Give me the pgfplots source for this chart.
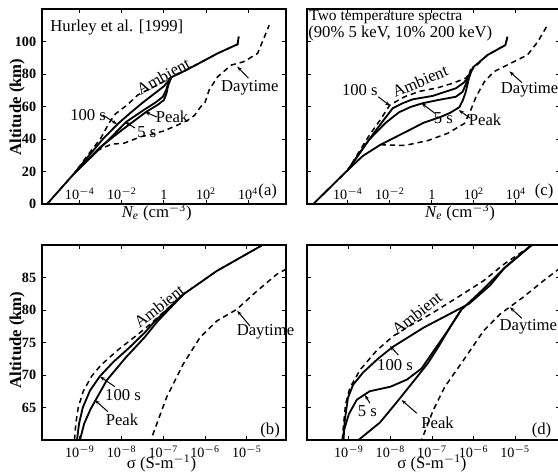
\documentclass[border=0pt]{standalone}
\usepackage{fontspec}
\setmainfont{Liberation Serif}
\usepackage{pgfplots}
\pgfplotsset{compat=1.18}
\usetikzlibrary{arrows.meta}

\tikzset{
  curve/.style={line width=1.1pt,black},
  amb/.style={line width=0.9pt,black,dash pattern=on 3.2pt off 2.4pt},
  ann/.style={font=\fontsize{10}{12}\selectfont,inner sep=0pt},
  arr/.style={-{Stealth[length=3pt,width=2.2pt]},line width=0.6pt},
}
\newcommand{\tp}[1]{10\textsuperscript{#1}}
\pgfplotsset{
  every axis/.append style={
    scale only axis, clip mode=individual, anchor=south west,
    height=117pt,
    axis line style={line width=0.9pt},
    tick align=inside, major tick length=2.4pt,
    tick style={line width=0.6pt,black},
    xticklabel style={font=\fontsize{8.5}{10}\selectfont},
    yticklabel style={font=\fontsize{8.5}{10}\selectfont\bfseries,/pgf/number format/assume math mode=true},
    ylabel style={font=\fontsize{10}{12}\selectfont\bfseries,anchor=center},
    xlabel style={font=\fontsize{10}{12}\selectfont,anchor=center},
  },
}

\begin{document}
\begin{tikzpicture}
\useasboundingbox (0,0) rectangle (334.8pt,284.4pt);

% (a) Hurley et al.
\begin{axis}[xmode=log, xminorticks=false, yminorticks=false,
  at={(25.2pt,162pt)}, width=146.4pt, xmin=1.6e-6, xmax=6.3e5,
  ymin=0, ymax=120, ytick={0,20,40,60,80,100},
  xtick={1e-4,1e-2,1,1e2,1e4},
  xticklabels={\tp{$-$4},\tp{$-$2},1,\tp{2},\tp{4}},
  xticklabel style={anchor=base,yshift=2.6pt},
  ylabel={Altitude (km)}, ylabel style={at={(axis description cs:-0.102,0.497)}},
  xlabel={\textit{N\textsubscript{e}} (cm\textsuperscript{$-$3})},
  xlabel style={at={(axis description cs:0.47,0)},yshift=-4.8pt}]
\addplot[amb] coordinates {(2.8e-6,0) (5.6e-5,19) (2.2e-4,29.5) (1e-3,40.5) (2.5e-3,50) (5e-3,55.5) (1.8e-2,61) (5.6e-2,67) (0.18,70.5) (0.5,73.2) (2.24,78) (10,82) (63,87.5) (355,92.7) (3160,98.3) (3550,103)};
\addplot[curve] coordinates {(2.8e-6,0) (5.6e-5,19) (2.8e-4,30) (1.26e-3,40) (6.3e-3,49.2) (2.5e-2,56) (0.1,62.5) (0.4,68.5) (1,72.5) (2.24,78) (10,82) (63,87.5) (355,92.7) (3160,98.3) (3550,103)};
\addplot[curve] coordinates {(5.6e-5,19) (3.55e-4,29) (1.8e-3,38) (1.6e-2,50.5) (0.1,57.5) (0.4,62.5) (0.89,66) (1.26,70) (1.58,74) (2.24,78)};
\addplot[curve] coordinates {(5.6e-5,19) (2.5e-4,27.5) (1e-3,35.3) (1e-2,45.5) (0.14,56.6) (0.5,61) (1,64) (1.32,68) (1.58,73) (2.24,78)};
\addplot[amb] coordinates {(6.3e-4,32.7) (3.16e-3,36.8) (1.26e-2,37.4) (3.16e-2,39.4) (7.94e-2,41.4) (0.2,42.5) (1,45) (4.47,48.6) (14.1,51.7) (28.2,54.5) (56.2,59.9) (89.1,62.5) (141,70.2) (355,78.3) (1585,85.5) (6310,87.6) (28200,92.7) (1e5,110)};
\node[ann,anchor=west] at (rel axis cs:0.033,0.903) {Hurley et al. [1999]};
\node[ann,rotate=29] at (rel axis cs:0.497,0.656) {Ambient};
\node[ann] at (rel axis cs:0.189,0.456) {100 s};
\draw[arr] (rel axis cs:0.25,0.456) -- (rel axis cs:0.307,0.41);
\node[ann] at (rel axis cs:0.43,0.369) {5 s};
\draw[arr] (rel axis cs:0.381,0.39) -- (rel axis cs:0.34,0.421);
\node[ann] at (rel axis cs:0.533,0.446) {Peak};
\draw[arr] (rel axis cs:0.471,0.446) -- (rel axis cs:0.422,0.472);
\node[ann] at (rel axis cs:0.852,0.595) {Daytime};
\draw[arr] (rel axis cs:0.846,0.645) -- (rel axis cs:0.8,0.705);
\node[ann] at (rel axis cs:0.925,0.062) {(a)};
\end{axis}

% (c) two temperature spectra
\begin{axis}[xmode=log, xminorticks=false, yminorticks=false,
  at={(184.2pt,162pt)}, width=151.8pt, xmin=1.12e-6, xmax=1.26e6,
  ymin=0, ymax=120, ytick={0,20,40,60,80,100}, yticklabels={},
  xtick={1e-4,1e-2,1,1e2,1e4},
  xticklabels={\tp{$-$4},\tp{$-$2},1,\tp{2},\tp{4}},
  xticklabel style={anchor=base,yshift=2.6pt},
  xlabel={\textit{N\textsubscript{e}} (cm\textsuperscript{$-$3})},
  xlabel style={at={(axis description cs:0.605,0)},yshift=-4.8pt}]
\addplot[amb] coordinates {(2.24e-6,0) (1e-4,21) (8.9e-4,41) (3.55e-3,52) (1e-2,61) (5e-2,66) (0.25,69.3) (1.86,71.5) (9.8,74.3) (41.7,77.5) (87,83) (447,91.7) (3160,97.8) (3980,103)};
\addplot[curve] coordinates {(2.24e-6,0) (1e-4,21) (1e-3,39.5) (4e-3,50) (1.35e-2,58.9) (4e-2,62) (0.12,64.4) (1.07,66.5) (13.8,71.2) (31.6,74.5) (60.3,78.3) (89,84) (447,91.7) (3160,97.8) (3980,103)};
\addplot[curve] coordinates {(1e-4,21) (1e-3,39.5) (6.3e-3,50) (2.75e-2,56.5) (0.1,59.8) (0.36,62) (2,64) (13.8,66) (28.8,69) (50.1,76.3) (72.4,83)};
\addplot[curve] coordinates {(1e-4,21) (5e-4,29.5) (3.55e-3,36.5) (5e-2,44) (0.4,50) (2.5,53.5) (7.1,56) (20,59.5) (28.8,63.5) (39.8,68.5) (52.5,75) (72.4,83)};
\addplot[amb] coordinates {(3.55e-3,36.5) (5e-2,36) (0.63,39) (5.62,43.5) (35.5,49.6) (70.8,57.8) (126,66) (316,75.3) (891,81.4) (5620,86.6) (35500,91.7) (1.12e5,100) (3.16e5,110)};
\node[ann,anchor=west,font=\fontsize{9.3}{11}\selectfont] at (rel axis cs:0.008,0.957) {Two temperature spectra};
\node[ann,anchor=west] at (rel axis cs:0.004,0.872) {(90\% 5 keV, 10\% 200 keV)};
\node[ann,rotate=23] at (rel axis cs:0.447,0.63) {Ambient};
\node[ann] at (rel axis cs:0.209,0.585) {100 s};
\draw[arr] (rel axis cs:0.282,0.55) -- (rel axis cs:0.328,0.503);
\node[ann] at (rel axis cs:0.539,0.439) {5 s};
\draw[arr] (rel axis cs:0.506,0.465) -- (rel axis cs:0.453,0.516);
\node[ann] at (rel axis cs:0.704,0.431) {Peak};
\draw[arr] (rel axis cs:0.645,0.44) -- (rel axis cs:0.6,0.482);
\node[ann] at (rel axis cs:0.88,0.585) {Daytime};
\draw[arr] (rel axis cs:0.85,0.622) -- (rel axis cs:0.8,0.68);
\node[ann] at (rel axis cs:0.937,0.062) {(c)};
\end{axis}

% (b) conductivity, Hurley et al.
\begin{axis}[xmode=log, xminorticks=false, yminorticks=false,
  at={(25.2pt,20.4pt)}, width=146.4pt, xmin=1.23e-10, xmax=8.7e-5,
  ymin=60, ymax=90, ytick={65,70,75,80,85},
  xtick={1e-9,1e-8,1e-7,1e-6,1e-5},
  xticklabels={\tp{$-$9},\tp{$-$8},\tp{$-$7},\tp{$-$6},\tp{$-$5}},
  ylabel={Altitude (km)}, ylabel style={at={(axis description cs:-0.102,0.513)}},
  xlabel={σ (S-m\textsuperscript{$-$1})},
  xlabel style={at={(axis description cs:0.49,0)},yshift=-13.8pt}]
\addplot[amb] coordinates {(7.4e-10,60) (7.94e-10,62.5) (9.1e-10,65) (1.2e-9,67.5) (1.9e-9,69.8) (3.16e-9,71.5) (7.94e-9,73.8) (2.5e-8,76.3) (4.8e-8,77.8) (3.0e-7,82.4) (1.9e-6,86) (2.24e-5,89.9) (3.55e-5,90.6)};
\addplot[curve] coordinates {(8.5e-10,60) (9.5e-10,62.5) (1.17e-9,65) (1.74e-9,67.6) (3.0e-9,69.8) (6.3e-9,72) (1.58e-8,74.3) (3.55e-8,76.5) (6.3e-8,78.3) (3.0e-7,82.4) (1.9e-6,86) (2.24e-5,89.9) (3.55e-5,90.6)};
\addplot[curve] coordinates {(1e-9,60) (1.26e-9,62.5) (1.78e-9,64.7) (2.5e-9,66.4) (4.4e-9,69.2) (1.26e-8,72.7) (3.55e-8,75.8) (7.1e-8,78.2) (3.0e-7,82.4)};
\addplot[amb] coordinates {(4e-8,58) (5e-8,60) (1.2e-7,66.6) (3.0e-7,71.7) (7.6e-7,75.8) (1.9e-6,78.3) (5.75e-6,80.1) (1.74e-5,82.9) (5.25e-5,85.5) (1e-4,86.5)};
\node[ann,rotate=38] at (rel axis cs:0.48,0.687) {Ambient};
\node[ann] at (rel axis cs:0.332,0.231) {100 s};
\draw[arr] (rel axis cs:0.299,0.273) -- (rel axis cs:0.238,0.325);
\node[ann] at (rel axis cs:0.328,0.103) {Peak};
\draw[arr] (rel axis cs:0.27,0.145) -- (rel axis cs:0.217,0.205);
\node[ann] at (rel axis cs:0.916,0.556) {Daytime};
\draw[arr] (rel axis cs:0.852,0.585) -- (rel axis cs:0.8,0.663);
\node[ann] at (rel axis cs:0.935,0.051) {(b)};
\end{axis}

% (d) conductivity, two temperature spectra
\begin{axis}[xmode=log, xminorticks=false, yminorticks=false,
  at={(184.2pt,20.4pt)}, width=151.8pt, xmin=9.8e-11, xmax=1.2e-4,
  ymin=60, ymax=90, ytick={65,70,75,80,85}, yticklabels={},
  xtick={1e-9,1e-8,1e-7,1e-6,1e-5},
  xticklabels={\tp{$-$9},\tp{$-$8},\tp{$-$7},\tp{$-$6},\tp{$-$5}},
  xlabel={σ (S-m\textsuperscript{$-$1})},
  xlabel style={at={(axis description cs:0.494,0)},yshift=-13.8pt}]
\addplot[amb] coordinates {(6.9e-10,60) (7.6e-10,63) (8.3e-10,65.5) (1.05e-9,68) (1.86e-9,70.8) (4.7e-9,73.8) (1.17e-8,76) (3.16e-8,77.7) (1e-7,79.5) (4e-7,81.9) (1.74e-6,84.5) (5.25e-6,87) (2.3e-5,89.8) (3.55e-5,90.6)};
\addplot[curve] coordinates {(7.4e-10,60) (7.94e-10,63) (9.5e-10,66.5) (1.26e-9,68.5) (2.2e-9,70.4) (5e-9,72.5) (1.12e-8,74.3) (6.3e-8,77.3) (2.5e-7,79.3) (7.94e-7,81) (2.5e-6,83.8) (5.6e-6,86.5) (2.3e-5,89.8) (3.55e-5,90.6)};
\addplot[curve] coordinates {(7.1e-10,60) (7.6e-10,61.5) (1e-9,64) (1.55e-9,66.2) (3.16e-9,67.5) (1e-8,68.2) (2.5e-8,69.3) (5.6e-8,71) (1.12e-7,73.8) (2.5e-7,77) (5e-7,80) (1.58e-6,83) (5.6e-6,86.5) (2.3e-5,89.8) (3.55e-5,90.6)};
\addplot[curve] coordinates {(1.7e-9,60) (5.6e-9,62.7) (1.41e-8,65.8) (3.55e-8,69) (7.94e-8,71.8) (1.41e-7,74.3) (2.8e-7,77.5) (5e-7,80)};
\addplot[amb] coordinates {(5e-8,58) (5.6e-8,60) (1.07e-7,64.6) (2.04e-7,68.2) (5.6e-7,72.2) (1.74e-6,76.8) (4.4e-6,79.4) (1.58e-5,82) (4.8e-5,84.5) (1.12e-4,86.3)};
\node[ann,rotate=38] at (rel axis cs:0.434,0.65) {Ambient};
\node[ann] at (rel axis cs:0.348,0.385) {100 s};
\draw[arr] (rel axis cs:0.361,0.436) -- (rel axis cs:0.328,0.482);
\node[ann] at (rel axis cs:0.239,0.146) {5 s};
\draw[arr] (rel axis cs:0.249,0.188) -- (rel axis cs:0.229,0.231);
\node[ann] at (rel axis cs:0.516,0.09) {Peak};
\draw[arr] (rel axis cs:0.434,0.137) -- (rel axis cs:0.374,0.205);
\node[ann] at (rel axis cs:0.875,0.582) {Daytime};
\draw[arr] (rel axis cs:0.849,0.624) -- (rel axis cs:0.802,0.681);
\node[ann] at (rel axis cs:0.927,0.051) {(d)};
\end{axis}
\end{tikzpicture}
\end{document}
